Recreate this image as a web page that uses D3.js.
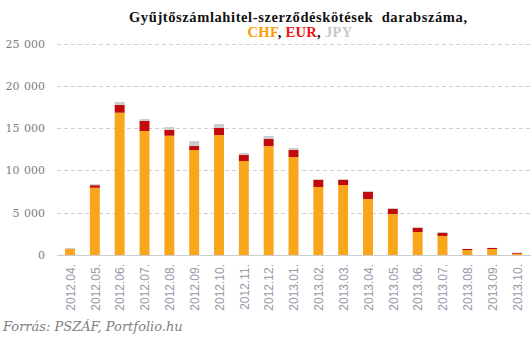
<!DOCTYPE html>
<html>
<head>
<meta charset="utf-8">
<script src="https://cdn.jsdelivr.net/npm/d3@7/dist/d3.min.js"></script>
<style>
  html, body { margin: 0; padding: 0; background: #fff; }
  svg { display: block; }
</style>
</head>
<body>
<svg id="chart" width="531" height="342"></svg>
<script>
// Monthly number of new contracts, split by currency
const months = ["2012.04.", "2012.05.", "2012.06.", "2012.07.", "2012.08.", "2012.09.",
  "2012.10.", "2012.11.", "2012.12.", "2013.01.", "2013.02.", "2013.03.", "2013.04.",
  "2013.05.", "2013.06.", "2013.07.", "2013.08.", "2013.09.", "2013.10."];
const chf = [720, 7950, 16820, 14660, 14100, 12410, 14180, 11110, 12880, 11580, 8040, 8270,
  6620, 4850, 2720, 2250, 590, 710, 150];
const eur = [20, 300, 910, 1180, 680, 470, 830, 710, 830, 830, 830, 600,
  830, 590, 470, 350, 120, 120, 100];
const jpy = [100, 130, 360, 240, 350, 590, 470, 240, 360, 240, 110, 110,
  120, 120, 120, 120, 30, 30, 20];
const yTicks = [0, 5000, 10000, 15000, 20000, 25000];
const seriesKeys = ["CHF", "EUR", "JPY"];
const seriesColors = { CHF: "#f9a61c", EUR: "#c20a0c", JPY: "#cccccc" };

const svg = d3.select("#chart");

const x = d3.scaleBand().domain(months).range([57.6, 529.4])
  .paddingInner(0.6).paddingOuter(0.3);
const y = d3.scaleLinear().domain([0, 25000]).range([255, 43.5]);

// Horizontal dashed grid
svg.append("g").selectAll("line").data(yTicks.filter(d => d > 0)).join("line")
  .attr("x1", 57).attr("x2", 531)
  .attr("y1", d => Math.round(y(d)) + 0.5).attr("y2", d => Math.round(y(d)) + 0.5)
  .attr("stroke", "#cfcfcf").attr("stroke-width", 1)
  .attr("stroke-dasharray", "4,3");

// Y axis labels
const yAxis = d3.axisLeft(y).tickValues(yTicks)
  .tickFormat(d => d === 0 ? "0" : d3.format(",")(d).replace(",", "\u2009\u2009"))
  .tickSize(0).tickPadding(12);
const gy = svg.append("g").attr("transform", "translate(57,0)").call(yAxis);
gy.select(".domain").remove();
gy.selectAll("text")
  .attr("font-family", "DejaVu Serif, serif").attr("font-size", 11)
  .attr("fill", "#7d7d7d");

// Stacked bars
const table = months.map((m, i) => ({ month: m, CHF: chf[i], EUR: eur[i], JPY: jpy[i] }));
const stacked = d3.stack().keys(seriesKeys)(table);
svg.append("g").selectAll("g").data(stacked).join("g")
  .attr("fill", s => seriesColors[s.key])
  .selectAll("rect").data(s => s).join("rect")
  .attr("x", d => x(d.data.month))
  .attr("width", x.bandwidth())
  .attr("y", d => y(d[1]))
  .attr("height", d => y(d[0]) - y(d[1]));

// Baseline
svg.append("line")
  .attr("x1", 57).attr("x2", 531)
  .attr("y1", y(0) + 0.5).attr("y2", y(0) + 0.5)
  .attr("stroke", "#cccccc").attr("stroke-width", 1.2);

// X axis labels, rotated
const xAxis = d3.axisBottom(x).tickSize(0).tickPadding(0);
const gx = svg.append("g").attr("transform", `translate(0,${y(0)})`).call(xAxis);
gx.select(".domain").remove();
gx.selectAll("text")
  .attr("font-family", "Liberation Sans, Arial, sans-serif").attr("font-size", 12)
  .attr("fill", "#9898a8")
  .attr("text-anchor", "end")
  .attr("transform", "rotate(-90)")
  .attr("x", -9).attr("y", 0).attr("dy", "0.4em");

// Title
svg.append("text")
  .attr("x", 298).attr("y", 22)
  .attr("text-anchor", "middle")
  .attr("font-family", "Liberation Serif, serif").attr("font-weight", "bold")
  .attr("font-size", 14.5).attr("fill", "#111")
  .attr("textLength", 338).attr("lengthAdjust", "spacing")
  .text("Gyűjtőszámlahitel-szerződéskötések\u00a0 darabszáma,");

const sub = svg.append("text")
  .attr("x", 300).attr("y", 37)
  .attr("text-anchor", "middle")
  .attr("font-family", "Liberation Serif, serif").attr("font-weight", "bold")
  .attr("font-size", 14.5).attr("fill", "#111")
  .attr("letter-spacing", 0.3);
sub.append("tspan").attr("fill", "#ff9900").text("CHF");
sub.append("tspan").text(", ");
sub.append("tspan").attr("fill", "#ee1111").text("EUR");
sub.append("tspan").text(", ");
sub.append("tspan").attr("fill", "#c8c8c8").text("JPY");

// Source
svg.append("text")
  .attr("x", 3).attr("y", 331)
  .attr("font-family", "DejaVu Serif, serif").attr("font-style", "italic")
  .attr("font-size", 13).attr("fill", "#808080")
  .text("Forrás: PSZÁF, Portfolio.hu");
</script>
</body>
</html>
